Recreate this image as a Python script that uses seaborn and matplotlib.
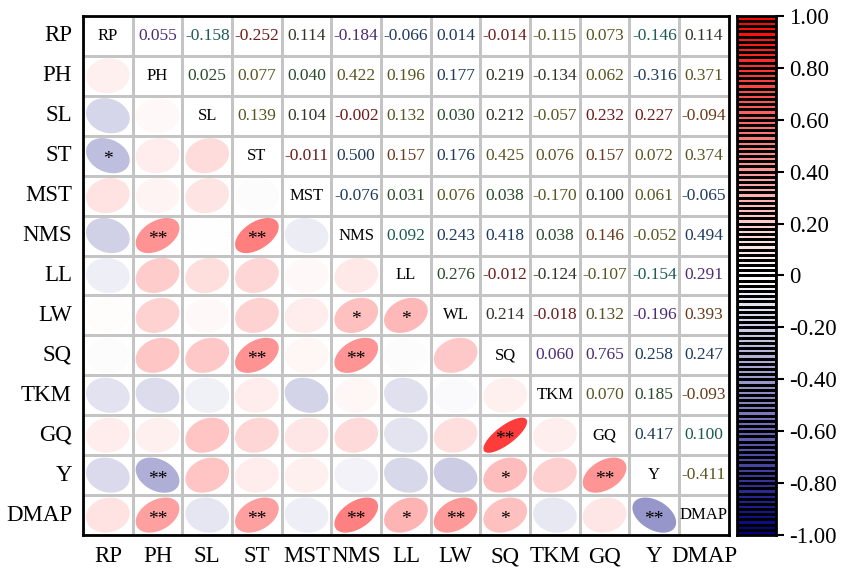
import numpy as np
import pandas as pd
import matplotlib
matplotlib.use("Agg")
import matplotlib.pyplot as plt
from matplotlib.colors import LinearSegmentedColormap, ListedColormap
import seaborn as sns

names = ["RP", "PH", "SL", "ST", "MST", "NMS", "LL", "LW", "SQ", "TKM", "GQ", "Y", "DMAP"]
diag_labels = ["RP", "PH", "SL", "ST", "MST", "NMS", "LL", "WL", "SQ", "TKM", "GQ", "Y", "DMAP"]

# upper triangle, row by row (columns to the right of the diagonal)
upper = [
    [0.055, -0.158, -0.252, 0.114, -0.184, -0.066, 0.014, -0.014, -0.115, 0.073, -0.146, 0.114],
    [0.025, 0.077, 0.040, 0.422, 0.196, 0.177, 0.219, -0.134, 0.062, -0.316, 0.371],
    [0.139, 0.104, -0.002, 0.132, 0.030, 0.212, -0.057, 0.232, 0.227, -0.094],
    [-0.011, 0.500, 0.157, 0.176, 0.425, 0.076, 0.157, 0.072, 0.374],
    [-0.076, 0.031, 0.076, 0.038, -0.170, 0.100, 0.061, -0.065],
    [0.092, 0.243, 0.418, 0.038, 0.146, -0.052, 0.494],
    [0.276, -0.012, -0.124, -0.107, -0.154, 0.291],
    [0.214, -0.018, 0.132, -0.196, 0.393],
    [0.060, 0.765, 0.258, 0.247],
    [0.070, 0.185, -0.093],
    [0.417, 0.100],
    [-0.411],
]

# text colour codes for the numbers, same layout as upper
text_codes = ["ptrkpnnrootk", "gogoonkkono", "okrogkorrb", "rnbnooboo", "ngogokon",
              "tnngbon", "grkotp", "kropb", "ppnn", "ogb", "nt", "o"]
palette = {"p": "#4d2c74", "t": "#1d5a55", "r": "#701a1a", "k": "#333328", "n": "#1f3a5c",
           "o": "#5a5420", "g": "#2b4a2c", "b": "#6a3a1a"}

n = len(names)
corr = np.eye(n)
for i, row in enumerate(upper):
    for k, v in enumerate(row):
        corr[i, i + 1 + k] = v
        corr[i + 1 + k, i] = v
df = pd.DataFrame(corr, index=names, columns=names)

sns.set_theme(style="white")
plt.rcParams["font.family"] = ["Liberation Serif", "DejaVu Serif"]

cmap = LinearSegmentedColormap.from_list("bwr_navy", ["#00007f", "#ffffff", "#ff0000"])

fig = plt.figure(figsize=(8.43, 5.68), dpi=100)
ax = fig.add_axes([0.0985, 0.058, 0.766, 0.914])
cax = fig.add_axes([0.874, 0.058, 0.046, 0.914])

sns.heatmap(np.zeros_like(corr), cmap=ListedColormap(["white"]), cbar=False,
            linewidths=2, linecolor="#c4c4c4", ax=ax,
            xticklabels=names, yticklabels=names)

t = np.linspace(0, 2 * np.pi, 100)
for i in range(n):
    for j in range(n):
        cx, cy = j + 0.5, i + 0.5
        r = corr[i, j]
        if i == j:
            ax.text(cx, cy, diag_labels[i], ha="center", va="center", fontsize=12, color="black")
        elif j > i:
            code = text_codes[i][j - i - 1]
            ax.text(cx, cy, f"{r:.3f}", ha="center", va="center", fontsize=12.5,
                    color=palette[code])
        else:
            d = np.arccos(r)
            s = 0.44
            ex = cx + s * np.cos(t + d / 2)
            ey = cy - s * np.cos(t - d / 2)
            ax.fill(ex, ey, color=cmap((r + 1) / 2), lw=0, zorder=3)
            stars = "**" if abs(r) >= 0.30 else ("*" if abs(r) >= 0.24 else "")
            if stars:
                ax.text(cx, cy + 0.1, stars, ha="center", va="center", fontsize=14,
                        color="black", zorder=4)

for sp in ax.spines.values():
    sp.set_visible(True)
    sp.set_color("black")
    sp.set_linewidth(2)
ax.tick_params(length=0, labelsize=16.5, pad=8)
ax.set_yticklabels(names, rotation=0)
ax.set_xticklabels(names, rotation=0)
for lab in ax.get_xticklabels() + ax.get_yticklabels():
    lab.set_color("black")

# colour bar with discrete levels
nlev = 100
levels = np.linspace(1, -1, nlev + 1)
mids = ((levels[:-1] + levels[1:]) / 2).reshape(-1, 1)
sns.heatmap(mids, cmap=cmap, vmin=-1, vmax=1, cbar=False, linewidths=0.9,
            linecolor="black", ax=cax, xticklabels=False, yticklabels=False)
for sp in cax.spines.values():
    sp.set_visible(True)
    sp.set_color("black")
    sp.set_linewidth(2)
tick_vals = np.round(np.linspace(1, -1, 11), 2)
cax.yaxis.tick_right()
cax.set_yticks(nlev / 2 * (1 - tick_vals))
cax.set_yticklabels(["0" if abs(v) < 1e-9 else f"{v:.2f}" for v in tick_vals])
cax.tick_params(axis="y", right=True, length=6, width=1.5, color="black",
                labelsize=16.5, labelcolor="black", pad=4, rotation=0)
cax.set_xticks([])

fig.savefig("out.png", dpi=100)
